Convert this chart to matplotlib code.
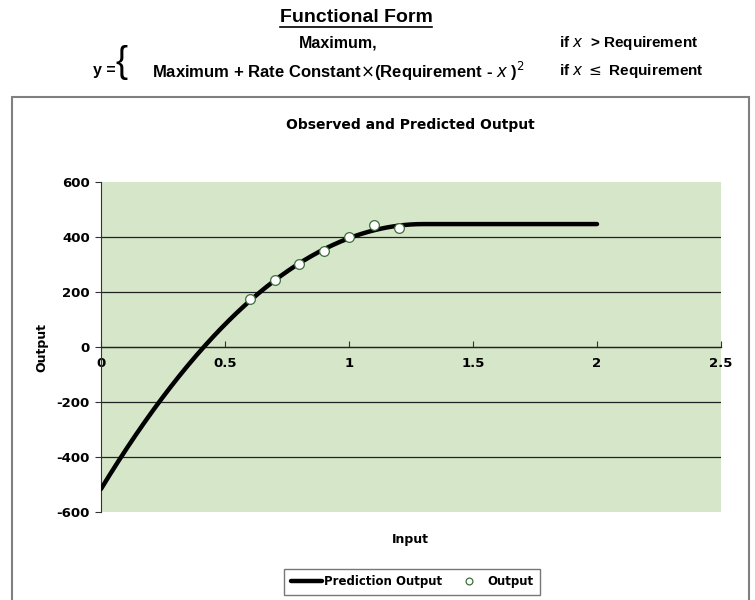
import numpy as np
import matplotlib
matplotlib.use("Agg")
import matplotlib.pyplot as plt
from matplotlib.patches import Rectangle
from matplotlib import font_manager

# Model parameters
maximum = 447.0
requirement = 1.3
rate_constant = -570.0

# Observed data
obs_input = [0.6, 0.7, 0.8, 0.9, 1.0, 1.1, 1.2]
obs_output = [175, 244, 302, 349, 400, 444, 433]

x_ticks = [0, 0.5, 1, 1.5, 2, 2.5]
x_tick_labels = ["0", "0.5", "1", "1.5", "2", "2.5"]
y_ticks = [-600, -400, -200, 0, 200, 400, 600]

pred_x = np.linspace(0, 2, 401)
pred_y = np.where(pred_x > requirement, maximum,
                  maximum + rate_constant * (requirement - pred_x) ** 2)

names = {f.name for f in font_manager.fontManager.ttflist}
narrow = "Liberation Sans Narrow" if "Liberation Sans Narrow" in names else "Liberation Sans"
chart_font = "DejaVu Sans"

W, H = 755, 600
fig = plt.figure(figsize=(W / 100, H / 100), dpi=100)
fig.patch.set_facecolor("white")

def fx(px):
    return px / W

def fy(py):
    return 1 - py / H

# Header with the functional form
t = fig.text(fx(356), fy(17), "Functional Form", ha="center", va="center",
             fontsize=14, fontweight="bold", family=narrow)
fig.canvas.draw()
bb = t.get_window_extent()
fig.add_artist(plt.Line2D([bb.x0 / W, bb.x1 / W], [fy(27), fy(27)],
                          transform=fig.transFigure, color="black", lw=1.2))
fig.text(fx(338), fy(43), "Maximum,", ha="center", va="center",
         fontsize=11.5, fontweight="bold", family=narrow)
fig.text(fx(559), fy(43), "if $x$  > Requirement", ha="left", va="center",
         fontsize=11, fontweight="bold", family=narrow)
fig.text(fx(93), fy(70), "y =", ha="left", va="center",
         fontsize=11.5, fontweight="bold", family=narrow)
fig.text(fx(115), fy(62), "{", ha="left", va="center",
         fontsize=26, family=narrow)
fig.text(fx(152), fy(71), r"Maximum + Rate Constant$\times$(Requirement - $x$ )$^2$",
         ha="left", va="center", fontsize=12, fontweight="bold", family=narrow)
fig.text(fx(559), fy(71), r"if $x$ $\leq$ Requirement", ha="left", va="center",
         fontsize=11, fontweight="bold", family=narrow)

# Chart frame
fig.add_artist(Rectangle((fx(12), fy(640)), fx(749 - 12), (640 - 97) / H,
                         transform=fig.transFigure, fill=False,
                         edgecolor="#808080", lw=1.5))

ax = fig.add_axes([fx(101), fy(512), fx(721 - 101), (512 - 182) / H])
ax.set_facecolor("#D6E6C9")
ax.set_xlim(0, 2.5)
ax.set_ylim(-600, 600)

for yv in y_ticks[1:-1]:
    ax.axhline(yv, color="#222222", lw=0.9, zorder=1)

ax.plot(pred_x, pred_y, color="black", lw=3.2, solid_capstyle="round",
        zorder=3, label="Prediction Output")
ax.plot(obs_input, obs_output, "o", ms=7, mfc="white", mec="#3C6E3C", mew=0.9,
        zorder=4, label="Output")

for side in ["top", "right"]:
    ax.spines[side].set_visible(False)
ax.spines["left"].set_color("#333333")
ax.spines["bottom"].set_position(("data", 0))
ax.spines["bottom"].set_color("#222222")
ax.spines["bottom"].set_linewidth(0.9)

ax.set_yticks(y_ticks)
ax.set_yticklabels([str(v) for v in y_ticks], fontsize=9.5, fontweight="bold",
                   family=chart_font)
ax.tick_params(axis="y", direction="out", length=4, pad=4, color="#333333")
ax.set_xticks(x_ticks)
ax.set_xticklabels(x_tick_labels, fontsize=9.5, fontweight="bold",
                   family=chart_font)
ax.tick_params(axis="x", direction="in", length=4, pad=7, color="#333333")

fig.text(fx(410), fy(125), "Observed and Predicted Output", ha="center",
         va="center", fontsize=10, fontweight="bold", family=chart_font)
fig.text(fx(410), fy(540), "Input", ha="center", va="center",
         fontsize=9, fontweight="bold", family=chart_font)
fig.text(fx(42), fy(347), "Output", ha="center", va="center", rotation=90,
         fontsize=9, fontweight="bold", family=chart_font)

leg = fig.legend(loc="center", bbox_to_anchor=(fx(412), fy(582)), ncol=2,
                 frameon=True, fancybox=False, edgecolor="#555555",
                 prop={"family": chart_font, "weight": "bold", "size": 8.5},
                 handlelength=2.6, handletextpad=0.2, columnspacing=1.0,
                 borderpad=0.55, markerscale=0.7)
leg.get_frame().set_linewidth(1.0)

fig.savefig("out.png", dpi=100, facecolor="white")
